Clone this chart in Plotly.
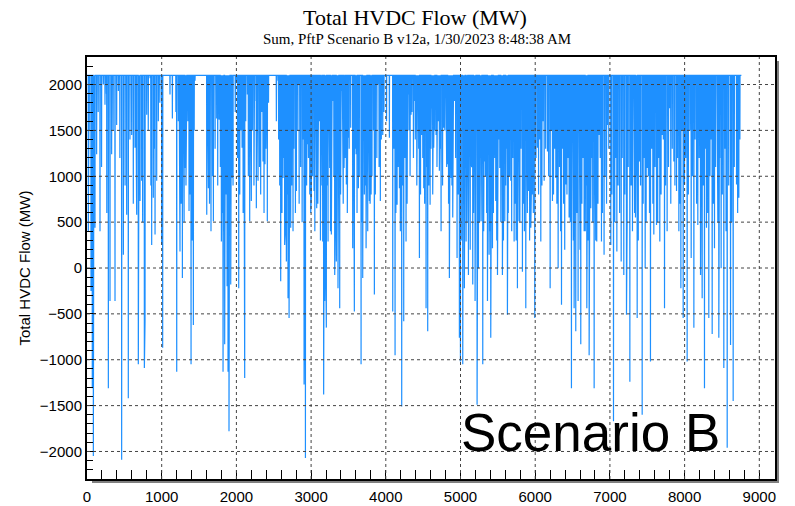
import plotly.graph_objects as go

# ---------------- data ----------------
CAP = 2100
# deeper dips
dip_hours = [
    18, 54, 71, 85, 107, 129, 174, 219, 241, 286, 308, 330, 375, 397, 420, 464, 487, 531, 553, 598,
    643, 665, 687, 710, 732, 768, 777, 799, 844, 866, 888, 911, 933, 955, 1000, 1013, 1111, 1143, 1201, 1223,
    1245, 1277, 1312, 1335, 1366, 1393, 1424, 1446, 1603, 1625, 1660, 1692, 1736, 1768,
    1776, 1799, 1821, 1843, 1865, 1888, 1901, 1924, 1941, 2000, 2031, 2076, 2103, 2111, 2147, 2178,
    2200, 2245, 2267, 2290, 2325, 2356, 2383, 2401, 2414, 2535, 2557, 2593, 2624, 2646, 2669, 2691, 2705,
    2727, 2758, 2803, 2829, 2906, 2924, 2950, 2982, 3004, 3039, 3075, 3111, 3142, 3155, 3168, 3182, 3204,
    3227, 3249, 3271, 3294, 3316, 3338, 3360, 3383, 3405, 3441, 3472, 3495, 3530,
    3557, 3579, 3602, 3633, 3669, 3691, 3713, 3736, 3758, 3780, 3803, 3847, 3892, 3927, 3959, 4048,
    4093, 4124, 4151, 4182, 4213, 4240, 4271, 4294, 4338, 4383, 4405, 4428, 4450, 4481, 4508, 4539,
    4561, 4593, 4615, 4641, 4673, 4695, 4717, 4740, 4775, 4807, 4829, 4851, 4874, 4896, 4918, 4954,
    4985, 4999, 5030, 5052, 5075, 5106, 5142, 5164, 5195, 5222, 5240, 5276, 5298, 5320,
    5361, 5383, 5405, 5428, 5450, 5472, 5495, 5526, 5561, 5593, 5628, 5673, 5718, 5762, 5784, 5829,
    5874, 5909, 5941, 5963, 5994, 6030, 6075, 6120, 6164, 6200, 6231, 6276, 6307, 6352, 6409,
    6454, 6485, 6521, 6543, 6574, 6610, 6655, 6691, 6722, 6744, 6789, 6824, 6855, 6887, 6922, 6967,
    7012, 7048, 7093, 7151, 7186, 7222, 7231, 7267, 7302, 7342, 7365, 7396, 7432, 7472, 7499,
    7543, 7588, 7624, 7668, 7699, 7731, 7766, 7802, 7856, 7892, 7923, 7950, 7981, 7998, 8034,
    8088, 8124, 8177, 8213, 8235, 8266, 8293, 8324, 8369, 8400, 8436, 8458, 8489, 8525, 8570,
    8615, 8650, 8695, 8726, 8757,
]
dip_values = [
    400, -250, -1310, -2050, 440, 1240, 400, 2000, 1780, -1310, -360, 1240, -360, 1560, 1930, -2090, 145, 580, -1420, 1450,
    1310, 580, -1050, 730, 950, -1090, -580, 1670, 2070, 250, 765, 365, 950, 1600, 250, -870, 1890, 1630, -1130, 1600,
    180, -110, 1090, 1560, 620, -1050, -620, 2040, 580, 870, 400, 510, 1630, 1620,
    1630, 290, -1130, -830, 800, -1130, -1780, -180, 980, 2040, -220, 1310, 1310, -1200, 1890, 510,
    730, 1820, 650, 950, 800, 1160, 1130, 1710, 510, 1600, 2040, -145, 980, 250, 70, -330, -545,
    440, 400, 840, 2000, -1270, -2070, 1350, 800, 765, 840, 650, 1600, 1420, 290, -1380, -360,
    -650, 290, 1090, 365, 1820, -75, 70, -220, -440, 1930, 1090, 910, 1420,
    1530, 215, -475, 1240, 870, -1050, -110, 800, 215, 400, 730, 800, -290, 2000, 730, 1450,
    1420, -475, -950, 690, 870, -1510, -580, 290, 1890, 1670, 1820, 1490, 1780, 110, 1450, 870,
    -440, -690, 690, 1740, 1310, 1450, 1670, 1060, 400, 1530, 1240, 1130, -110, 980, 550, 1820,
    110, -760, -1020, -1050, -220, 290, -75, 1160, -180, -360, -1490, -3, 510, -1050,
    1160, -360, 145, -760, 215, 1240, 730, -75, 1090, -75, 510, -510, 950, 290, -220, 510,
    -40, -440, 840, 440, 800, -545, 1310, 290, 950, 1270, -220, 730, 980, -3, -400,
    910, 550, -1310, -440, -690, -360, -830, 400, -440, -950, 650, -1310, 290, 1450, 290, 145,
    1560, 250, -1670, 180, 70, -75, -510, 510, -1240, 400, 550, -545, 1160, -1600, -3,
    1090, -1020, 365, 470, 290, 1450, -440, 400, 1740, 1160, 840, 400, -220, -545, 910,
    -1020, 110, -650, 470, -75, -330, -1310, 440, -545, -720, 215, 580, -760, -3, -1090,
    -1960, -840, -1450, 910, 765,
]
# shallower dips that fill the dense bands
shallow_hours = [
    30, 95, 150, 195, 260, 265, 350, 440, 510, 575, 620, 655, 700, 745, 820, 855, 900, 975,
    1190, 1235, 1260, 1290, 1300, 1325, 1350, 1380, 1410, 1435,
    1615, 1640, 1680, 1715, 1750,
    1785, 1810, 1832, 1855, 1875, 1912, 1935, 1955, 1985, 2015, 2045, 2060, 2090, 2125, 2160,
    2190, 2215, 2235, 2280, 2310, 2340, 2370, 2395, 2430,
    2565, 2580, 2610, 2635, 2655, 2680, 2700, 2715, 2740, 2770, 2790, 2815, 2840, 2860, 2880, 2895, 2915, 2940, 2965, 2995,
    3020, 3050, 3065, 3090, 3100, 3125, 3135, 3175, 3195, 3215, 3240, 3260, 3280, 3305, 3325, 3350, 3370, 3395, 3420, 3430, 3455, 3485, 3510,
    3570, 3590, 3615, 3645, 3680, 3700, 3725, 3745, 3770, 3790, 3815, 3835, 3860, 3880, 3910, 3940, 3975, 4010,
    4110, 4135, 4165, 4195, 4225, 4255, 4285, 4310, 4325, 4350, 4370, 4395, 4415, 4440, 4465, 4495, 4520, 4550, 4575, 4605, 4628, 4655, 4685, 4705,
    4730, 4760, 4790, 4815, 4840, 4865, 4885, 4905, 4935, 4970,
    5010, 5040, 5060, 5085, 5095, 5120, 5130, 5150, 5175, 5185, 5205, 5230, 5255, 5265, 5285, 5310, 5335, 5350, 5370, 5395,
    5415, 5440, 5460, 5485, 5505, 5515, 5540, 5550, 5575, 5605, 5615, 5640, 5655, 5685, 5700, 5730, 5745, 5775, 5795, 5810,
    5840, 5855, 5885, 5895, 5925, 5950, 5975, 6010, 6045, 6060, 6090, 6105,
    6140, 6180, 6215, 6245, 6260, 6290,
    6325, 6340, 6365, 6380, 6395, 6425, 6440, 6470, 6500, 6510, 6530, 6560, 6590, 6600, 6625, 6640, 6670, 6680, 6705, 6730,
    6755, 6770, 6800, 6810, 6840, 6870, 6900, 6935, 6955, 6985,
    7025, 7065, 7080, 7110, 7130, 7165, 7200,
    7245, 7285, 7320, 7330, 7355, 7380, 7410, 7445, 7460, 7485, 7515, 7530, 7560, 7575, 7605, 7640, 7655, 7685, 7715, 7745,
    7785, 7815, 7835, 7870, 7905, 7935, 7965,
    8015, 8050, 8070, 8105, 8140, 8160, 8195, 8225, 8250, 8280, 8310, 8340, 8355, 8385, 8415, 8445, 8470, 8505, 8540, 8555,
    8590, 8630, 8665, 8710, 8740,
]
shallow_values = [
    1500, 900, 1700, 1100, 1900, 600, 1500, 1200, 900, 1400, 700, 1800, 1100, 500, 1500, 900, 1300, 1800,
    1700, 1200, 700, 1400, 500, 900, 1600, 800, 300, 1500,
    1200, 700, 1000, 1300, 900,
    1100, 600, 400, 1200, -200, 700, 1500, 900, 1700, 1200, 800, 1500, 600, 1600, 1000,
    1200, 1500, 900, 1400, 1100, 1700, 600, 1300, 1800,
    1400, 900, 600, 1200, 400, 800, 1100, 300, 900, 1300, 600, 1500, 700, 1100, 500, 1400, 300, 900, 1200, 600,
    1000, 400, 1200, 700, 1500, 300, 900, 700, 100, 900, 1200, 400, 800, 1000, 600, 1300, 300, 800, 1400, 700, 1200, 600, 1300,
    900, 1300, 600, 1000, 500, 1400, 900, 400, 1200, 700, 1000, 1500, 800, 1200, 1100, 1400, 1700, 1600,
    1300, 600, 1100, 400, 900, 1200, 700, 1500, 1000, 1700, 1200, 1400, 900, 1300, 800, 1200, 700, 1100, 900, 1300, 800, 1500, 1100, 1600,
    1300, 900, 1500, 1100, 700, 1400, 900, 600, 1200, 800,
    300, 700, 1000, 500, 1300, 800, 200, 1100, 600, 1400, 300, 900, 500, 1200, 800, 400, 1000, 600, 1300, 400,
    900, 600, 1200, 300, 800, 1400, 500, 1000, 300, 900, 1300, 600, 1000, 400, 1200, 700, 300, 900, 500, 1300,
    700, 400, 1000, 600, 300, 900, 600, 1200, 800, 1400, 900, 1600,
    1300, 1000, 1500, 800, 1300, 700,
    1100, 400, 1300, 700, 200, 800, 1200, 500, 1000, 300, 900, 600, 1000, 200, 700, 1200, 400, 900, 300, 800,
    1200, 500, 1000, 300, 700, 1200, 600, 1000, 700, 1300,
    800, 500, 1200, 900, 600, 1200, 800,
    1100, 900, 1300, 600, 1000, 300, 900, 700, 1200, 500, 1000, 600, 1300, 700, 1100, 500, 1200, 800, 1400, 900,
    1100, 700, 1300, 900, 1200, 700, 1500,
    1200, 800, 1500, 1000, 1400, 700, 1200, 500, 900, 1300, 600, 1000, 1400, 700, 1100, 500, 1200, 800, 1300, 400,
    900, 500, 1100, 600, 1400,
]
x_ticks = [0, 1000, 2000, 3000, 4000, 5000, 6000, 7000, 8000, 9000]
y_ticks = [-2000, -1500, -1000, -500, 0, 500, 1000, 1500, 2000]
title_text = "Total HVDC Flow (MW)"
subtitle_text = "Sum, PftP Scenario B v12a, 1/30/2023 8:48:38 AM"
y_title = "Total HVDC Flow (MW)"
label_text = "Scenario B"

# ---------------- build hourly trace ----------------
pairs = sorted(list(zip(dip_hours, dip_values)) + list(zip(shallow_hours, shallow_values)))
xs, ys = [0], [CAP]
for h, v in pairs:
    xs += [h - 2, h, h + 2]
    ys += [CAP, v, CAP]
xs.append(8760)
ys.append(CAP)

W, H = 795, 506
L, R, T, B = 87, 20, 57, 27
pw, ph = W - L - R, H - T - B

fig = go.Figure()
fig.add_trace(go.Scatter(x=xs, y=ys, mode="lines",
                         line=dict(color="#1E90FF", width=1.2),
                         hoverinfo="skip", showlegend=False))

shapes = []
for xv in x_ticks[1:]:
    shapes.append(dict(type="line", xref="x", yref="paper", x0=xv, x1=xv, y0=0, y1=1,
                       line=dict(color="#444", width=1, dash="3px,3px"), layer="above"))
for yv in y_ticks:
    shapes.append(dict(type="line", xref="paper", yref="y", x0=0, x1=1, y0=yv, y1=yv,
                       line=dict(color="#444", width=1, dash="3px,3px"), layer="above"))
# drop shadow of frame
sx, sy = 4 / pw, 4 / ph
shapes.append(dict(type="rect", xref="paper", yref="paper", x0=1, x1=1 + sx, y0=-sy, y1=1 - sy,
                   fillcolor="#808080", line=dict(width=0), layer="below"))
shapes.append(dict(type="rect", xref="paper", yref="paper", x0=5 / pw, x1=1 + sx, y0=-sy, y1=0,
                   fillcolor="#808080", line=dict(width=0), layer="below"))

serif = "Times New Roman, Liberation Serif, serif"
sans = "Arial, Liberation Sans, sans-serif"

annotations = [
    dict(text=title_text, xref="paper", yref="paper", x=(415 - L) / pw, y=1 + (T - 18) / ph,
         xanchor="center", yanchor="middle", showarrow=False, font=dict(family=serif, size=22, color="black")),
    dict(text=subtitle_text, xref="paper", yref="paper", x=(417 - L) / pw, y=1 + (T - 39) / ph,
         xanchor="center", yanchor="middle", showarrow=False, font=dict(family=serif, size=15, color="black")),
    dict(text=label_text, xref="paper", yref="paper", x=(459 - L) / pw, y=(H - B - 432) / ph,
         xanchor="left", yanchor="middle", showarrow=False, font=dict(family=sans, size=53, color="black")),
]

fig.update_layout(
    width=W, height=H, margin=dict(l=L, r=R, t=T, b=B, pad=0, autoexpand=False),
    paper_bgcolor="white", plot_bgcolor="white",
    shapes=shapes, annotations=annotations,
    font=dict(family=sans, size=15, color="black"),
    xaxis=dict(range=[0, 9210], tickvals=x_ticks, showgrid=False, zeroline=False, automargin=False,
               showline=True, mirror=True, linecolor="black", linewidth=2,
               ticks="inside", ticklen=9, tickcolor="black", ticklabelstandoff=3,
               minor=dict(dtick=200, tick0=0, ticks="inside", ticklen=9, tickcolor="black", showgrid=False),
               tickfont=dict(family=sans, size=15)),
    yaxis=dict(range=[-2300, 2300], tickvals=y_ticks, showgrid=False, zeroline=False, automargin=False,
               showline=True, mirror=True, linecolor="black", linewidth=2,
               ticks="inside", ticklen=9, tickcolor="black",
               minor=dict(dtick=100, tick0=0, ticks="inside", ticklen=6, tickcolor="black", showgrid=False),
               tickfont=dict(family=sans, size=15),
               title=dict(text=y_title, font=dict(family=sans, size=15), standoff=6)),
)

fig.write_html("out.html")
